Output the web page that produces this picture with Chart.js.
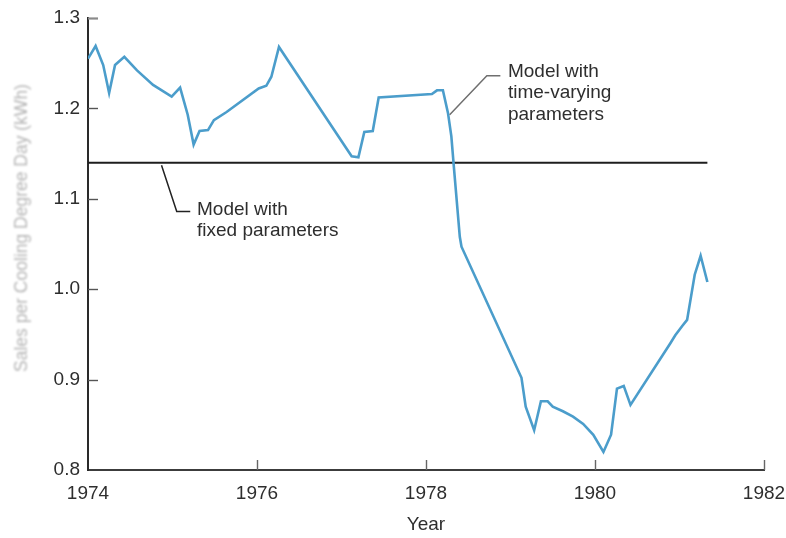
<!DOCTYPE html>
<html>
<head>
<meta charset="utf-8">
<script src="https://cdn.jsdelivr.net/npm/chart.js@4/dist/chart.umd.min.js"></script>
<style>
  html, body { margin: 0; padding: 0; background: #ffffff; }
  #wrap { width: 786px; height: 538px; }
</style>
</head>
<body>
<div id="wrap"><canvas id="chart" width="786" height="538"></canvas></div>
<script>
// Sales per cooling degree day (kWh), model with time-varying parameters
const years = [
  1974.00, 1974.09, 1974.18, 1974.25, 1974.32, 1974.43, 1974.58, 1974.77, 1974.99,
  1975.09, 1975.18, 1975.25, 1975.32, 1975.42, 1975.49, 1975.64, 1976.02, 1976.11,
  1976.17, 1976.26, 1977.12, 1977.20, 1977.27, 1977.37, 1977.44, 1978.07, 1978.13,
  1978.20, 1978.26, 1978.30, 1978.33, 1978.40, 1978.42, 1979.13, 1979.18, 1979.28,
  1979.36, 1979.44, 1979.50, 1979.62, 1979.74, 1979.86, 1979.98, 1980.10, 1980.19,
  1980.26, 1980.34, 1980.42, 1980.89, 1980.95, 1981.03, 1981.09, 1981.18, 1981.25,
  1981.33
];
const salesPerCDD = [
  1.255, 1.269, 1.248, 1.217, 1.248, 1.257, 1.242, 1.226, 1.213,
  1.223, 1.193, 1.160, 1.175, 1.176, 1.187, 1.196, 1.222, 1.225,
  1.235, 1.268, 1.147, 1.146, 1.174, 1.175, 1.212, 1.216, 1.220,
  1.220, 1.195, 1.169, 1.135, 1.058, 1.047, 0.902, 0.870, 0.844,
  0.876, 0.876, 0.870, 0.865, 0.859, 0.851, 0.839, 0.820, 0.839,
  0.890, 0.893, 0.872, 0.940, 0.949, 0.959, 0.966, 1.016, 1.037,
  1.008
];

// Model with fixed parameters: one constant level over the same span
const fixedYears = [1974.00, 1981.33];
const fixedLevel = [1.14, 1.14];

const xTickValues = [1974, 1976, 1978, 1980, 1982];
const yTickValues = [0.8, 0.9, 1.0, 1.1, 1.2, 1.3];

const FONT = '"Liberation Sans", Arial, Helvetica, sans-serif';
const INK = '#2e2e2e';

// Callout labels, anchored in data units
const callouts = [
  {
    leader: [[1978.28, 1.193], [1978.72, 1.236], [1978.88, 1.236]],
    leaderColor: '#6f6f6f',
    text: ['Model with', 'time-varying', 'parameters'],
    at: [1978.97, 1.241]
  },
  {
    leader: [[1974.87, 1.137], [1975.05, 1.086], [1975.21, 1.086]],
    leaderColor: '#222222',
    text: ['Model with', 'fixed parameters'],
    at: [1975.29, 1.088]
  }
];

// Inward tick marks on both axes
const innerTicks = {
  id: 'innerTicks',
  afterDatasetsDraw(chart) {
    const { ctx, chartArea: a, scales: { x, y } } = chart;
    const top = yTickValues[yTickValues.length - 1];
    ctx.save();
    yTickValues.forEach(v => {
      if (v === yTickValues[0]) return;
      const py = Math.round(y.getPixelForValue(v)) + 0.5;
      ctx.strokeStyle = v === top ? '#8a8a8a' : '#555';
      ctx.lineWidth = v === top ? 2.2 : 1.4;
      ctx.beginPath();
      ctx.moveTo(a.left, py);
      ctx.lineTo(a.left + 10, py);
      ctx.stroke();
    });
    ctx.lineWidth = 1.4;
    ctx.strokeStyle = '#666';
    xTickValues.forEach(v => {
      if (v === xTickValues[0]) return;
      const px = Math.round(x.getPixelForValue(v)) + 0.5;
      ctx.beginPath();
      ctx.moveTo(px, a.bottom);
      ctx.lineTo(px, a.bottom - 10);
      ctx.stroke();
    });
    ctx.restore();
  }
};

// Leader lines and callout text
const calloutPlugin = {
  id: 'callouts',
  afterDatasetsDraw(chart) {
    const { ctx, scales: { x, y } } = chart;
    ctx.save();
    callouts.forEach(c => {
      ctx.strokeStyle = c.leaderColor;
      ctx.lineWidth = 1.5;
      ctx.beginPath();
      c.leader.forEach(([lx, ly], i) => {
        const px = x.getPixelForValue(lx), py = y.getPixelForValue(ly);
        if (i === 0) ctx.moveTo(px, py); else ctx.lineTo(px, py);
      });
      ctx.stroke();
      ctx.fillStyle = INK;
      ctx.font = '19px ' + FONT;
      ctx.textAlign = 'left';
      ctx.textBaseline = 'middle';
      const tx = x.getPixelForValue(c.at[0]);
      const ty = y.getPixelForValue(c.at[1]);
      c.text.forEach((line, i) => ctx.fillText(line, tx, ty + i * 21.5));
    });
    ctx.restore();
  }
};

// Rotated, faint y-axis title
const yTitle = {
  id: 'yTitle',
  afterDraw(chart) {
    const { ctx } = chart;
    ctx.save();
    ctx.translate(22, 228);
    ctx.rotate(-Math.PI / 2);
    ctx.filter = 'blur(0.8px)';
    ctx.fillStyle = '#b4b4b4';
    ctx.font = '17.5px ' + FONT;
    ctx.textAlign = 'center';
    ctx.textBaseline = 'middle';
    ctx.fillText('Sales per Cooling Degree Day (kWh)', 0, 0);
    ctx.restore();
  }
};

new Chart(document.getElementById('chart'), {
  type: 'line',
  data: {
    datasets: [
      {
        label: 'Model with time-varying parameters',
        data: years.map((yr, i) => ({ x: yr, y: salesPerCDD[i] })),
        borderColor: '#4b9dcb',
        borderWidth: 2.6,
        pointRadius: 0,
        tension: 0,
        fill: false
      },
      {
        label: 'Model with fixed parameters',
        data: fixedYears.map((yr, i) => ({ x: yr, y: fixedLevel[i] })),
        borderColor: '#1e1e1e',
        borderWidth: 2,
        pointRadius: 0,
        tension: 0,
        fill: false
      }
    ]
  },
  options: {
    responsive: false,
    animation: false,
    events: [],
    layout: { padding: { top: 18, right: 22, left: 0, bottom: 0 } },
    plugins: {
      legend: { display: false },
      tooltip: { enabled: false },
      title: { display: false }
    },
    scales: {
      x: {
        type: 'linear',
        min: 1974,
        max: 1982,
        afterBuildTicks: s => { s.ticks = xTickValues.map(v => ({ value: v })); },
        afterFit: s => { s.height = 68; s.paddingLeft = 0; s.paddingRight = 0; },
        grid: { display: false, drawTicks: false },
        border: { display: true, color: '#3c3c3c', width: 2 },
        ticks: {
          padding: 12,
          color: INK,
          font: { family: FONT, size: 19 },
          callback: v => String(v),
          maxRotation: 0
        },
        title: {
          display: true,
          text: 'Year',
          color: INK,
          font: { family: FONT, size: 19 },
          padding: { top: 0, bottom: 2 }
        }
      },
      y: {
        type: 'linear',
        min: 0.8,
        max: 1.3,
        afterBuildTicks: s => { s.ticks = yTickValues.map(v => ({ value: v })); },
        afterFit: s => { s.width = 88; s.paddingTop = 0; s.paddingBottom = 0; },
        grid: { display: false, drawTicks: false },
        border: { display: true, color: '#2a2a2a', width: 2 },
        ticks: {
          padding: 8,
          color: INK,
          font: { family: FONT, size: 19 },
          callback: v => Number(v).toFixed(1)
        }
      }
    }
  },
  plugins: [innerTicks, calloutPlugin, yTitle]
});
</script>
</body>
</html>
